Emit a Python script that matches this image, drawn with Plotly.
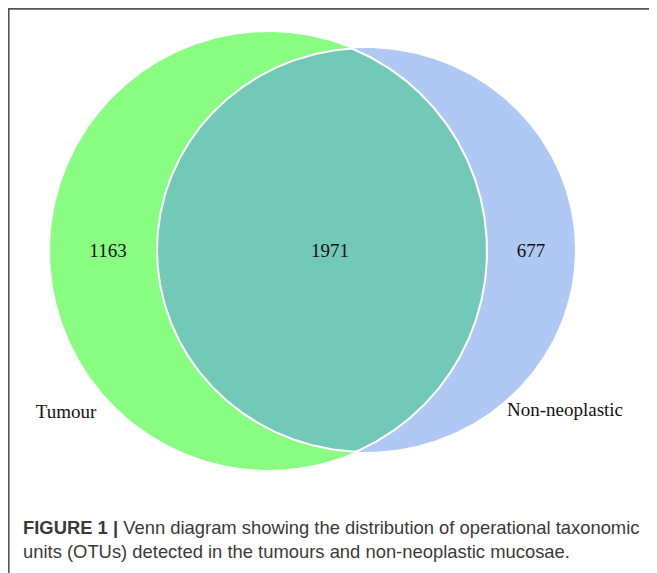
import numpy as np
import plotly.graph_objects as go

# Venn counts (OTUs)
set_names = ["Tumour", "Non-neoplastic"]
region_counts = [1163, 1971, 677]  # tumour only, shared, non-neoplastic only
caption_bold = "FIGURE 1 |"
caption_text = ["Venn diagram showing the distribution of operational taxonomic",
                "units (OTUs) detected in the tumours and non-neoplastic mucosae."]

W, H = 657, 573
PAD = 8  # page body margin, so data units line up with window pixels

# circle geometry in pixel units (center x, center y, radius x, radius y)
green = (268.5, 251, 218.5, 219)
blue = (366, 250, 209, 202)

GREEN = "#88FD82"
BLUE = "#B0C8F4"
TEAL = "#72C9B7"


def ellipse_pts(c, n=720):
    t = np.linspace(0, 2 * np.pi, n, endpoint=False)
    return c[0] + c[2] * np.cos(t), c[1] + c[3] * np.sin(t)


def inside(c, x, y):
    return ((x - c[0]) / c[2]) ** 2 + ((y - c[1]) / c[3]) ** 2 <= 1


# lens = part of each boundary lying inside the other shape
bx, by = ellipse_pts(blue)
gx, gy = ellipse_pts(green)
mb = inside(green, bx, by)
mg = inside(blue, gx, gy)
lx = np.concatenate([bx[mb], gx[mg]])
ly = np.concatenate([by[mb], gy[mg]])
ang = np.arctan2(ly - ly.mean(), lx - lx.mean())
order = np.argsort(ang)
lx, ly = lx[order], ly[order]

fig = go.Figure()

for c, col in [(green, GREEN), (blue, BLUE)]:
    x, y = ellipse_pts(c)
    fig.add_trace(go.Scatter(
        x=np.append(x, x[0]), y=np.append(y, y[0]),
        mode="lines", fill="toself", fillcolor=col,
        line=dict(color=col, width=0), hoverinfo="skip", showlegend=False
    ))

fig.add_trace(go.Scatter(
    x=np.append(lx, lx[0]), y=np.append(ly, ly[0]),
    mode="lines", fill="toself", fillcolor=TEAL,
    line=dict(color="white", width=2), hoverinfo="skip", showlegend=False
))

# region counts
count_x = [108, 330, 531]
fig.add_trace(go.Scatter(
    x=count_x, y=[252] * 3, mode="text",
    text=[str(v) for v in region_counts],
    textfont=dict(family="Liberation Serif", size=19, color="#111111"),
    hoverinfo="skip", showlegend=False
))

# set labels
fig.add_trace(go.Scatter(
    x=[66, 565], y=[413, 411], mode="text",
    text=set_names,
    textfont=dict(family="Liberation Serif", size=19, color="#111111"),
    hoverinfo="skip", showlegend=False
))

# caption
fig.add_annotation(
    x=21, y=527, xref="x", yref="y", xanchor="left", yanchor="middle",
    text="<b>" + caption_bold + "</b> " + caption_text[0],
    showarrow=False,
    font=dict(family="Liberation Sans", size=18.4, color="#3a3a3a")
)
fig.add_annotation(
    x=21, y=551, xref="x", yref="y", xanchor="left", yanchor="middle",
    text=caption_text[1], showarrow=False,
    font=dict(family="Liberation Sans", size=18.4, color="#3a3a3a")
)

# frame (top and left rule)
fig.add_shape(type="line", x0=8, x1=W, y0=8.8, y1=8.8, xref="x", yref="y",
              line=dict(color="#555555", width=2))
fig.add_shape(type="line", x0=8.8, x1=8.8, y0=8, y1=H, xref="x", yref="y",
              line=dict(color="#555555", width=1.6))

fig.update_xaxes(range=[PAD, W], visible=False, fixedrange=True)
fig.update_yaxes(range=[H, PAD], visible=False, fixedrange=True)
fig.update_layout(
    width=W - PAD, height=H - PAD,
    margin=dict(l=0, r=0, t=0, b=0),
    plot_bgcolor="white", paper_bgcolor="white",
)

fig.write_html("out.html")
